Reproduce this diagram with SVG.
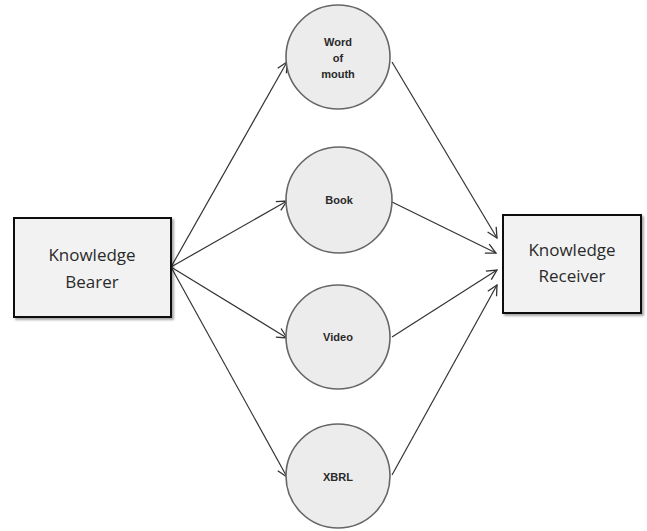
<svg xmlns="http://www.w3.org/2000/svg" width="647" height="531" viewBox="0 0 647 531">
<defs>
<marker id="arr" viewBox="0 0 12 12" refX="11" refY="6" markerWidth="12" markerHeight="12" markerUnits="userSpaceOnUse" orient="auto">
<path d="M1,1 L11,6 L1,11" fill="none" stroke="#333" stroke-width="1.3"/>
</marker>
<filter id="sh" x="-10%" y="-10%" width="130%" height="130%">
<feDropShadow dx="2" dy="2" stdDeviation="1.2" flood-color="#000" flood-opacity="0.35"/>
</filter>
</defs>
<style>
.box{fill:#f2f2f2;stroke:#111;stroke-width:2}
.circ{fill:#ececec;stroke:#666;stroke-width:1.6}
.bt{font-family:"Open Sans","Liberation Sans",sans-serif;font-size:17px;fill:#2a2a2a;text-anchor:middle}
.ct{font-family:"Liberation Sans",Arial,sans-serif;font-size:11px;font-weight:bold;fill:#2a2a2a;text-anchor:middle}
.ln{stroke:#333;stroke-width:1.2;fill:none;marker-end:url(#arr)}
</style>
<rect width="647" height="531" fill="#fff"/>
<g id="connectors">
<line class="ln" x1="171" y1="267" x2="287" y2="62"/>
<line class="ln" x1="171" y1="267" x2="287" y2="201"/>
<line class="ln" x1="171" y1="267" x2="287" y2="338"/>
<line class="ln" x1="171" y1="267" x2="287" y2="477"/>
<line class="ln" x1="392" y1="62" x2="497" y2="238"/>
<line class="ln" x1="392" y1="202" x2="496" y2="253"/>
<line class="ln" x1="392" y1="337" x2="497" y2="270"/>
<line class="ln" x1="392" y1="475" x2="497" y2="285"/>
</g>
<g id="bearer">
<rect class="box" x="14" y="218" width="157" height="99" filter="url(#sh)"/>
<text class="bt" x="92" y="261">Knowledge</text>
<text class="bt" x="92" y="288">Bearer</text>
</g>
<g id="receiver">
<rect class="box" x="503" y="215" width="138" height="98" filter="url(#sh)"/>
<text class="bt" x="572" y="256">Knowledge</text>
<text class="bt" x="572" y="282">Receiver</text>
</g>
<g id="word">
<circle class="circ" cx="338" cy="57" r="52"/>
<text class="ct" x="338" y="46">Word</text>
<text class="ct" x="338" y="62">of</text>
<text class="ct" x="338" y="78">mouth</text>
</g>
<g id="book">
<circle class="circ" cx="339" cy="200" r="53"/>
<text class="ct" x="339" y="204">Book</text>
</g>
<g id="video">
<circle class="circ" cx="338" cy="337" r="52"/>
<text class="ct" x="338" y="341">Video</text>
</g>
<g id="xbrl">
<circle class="circ" cx="338" cy="476" r="52"/>
<text class="ct" x="338" y="481">XBRL</text>
</g>
</svg>
